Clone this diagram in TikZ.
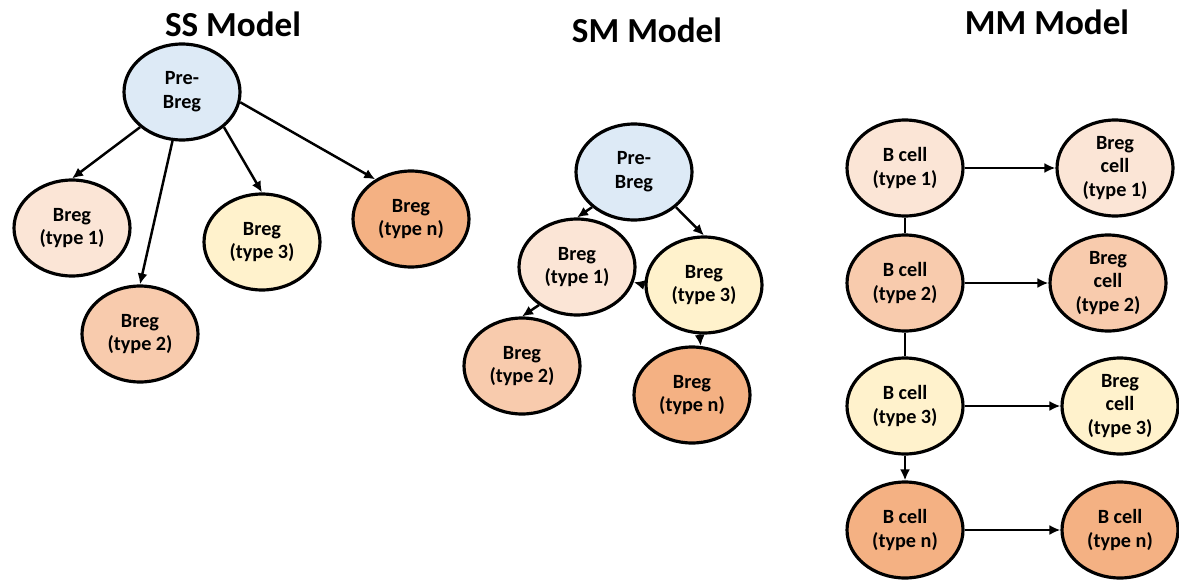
\documentclass[tikz,border=0pt]{standalone}
\usepackage{fontspec}
\setmainfont{Carlito}
\usetikzlibrary{shapes.geometric,arrows.meta}

\definecolor{preblue}{HTML}{DDEAF6}
\definecolor{typeone}{HTML}{FBE5D6}
\definecolor{typetwo}{HTML}{F8CBAD}
\definecolor{typethree}{HTML}{FFF2CC}
\definecolor{typen}{HTML}{F4B183}

\begin{document}
\begin{tikzpicture}[x=0.02cm, y=-0.02cm,
    cell/.style={ellipse, draw=black, line width=1.8pt, minimum width=2.32cm, minimum height=1.92cm,
        inner sep=0pt, align=center, font=\fontsize{11.5}{13.5}\selectfont\bfseries},
    title/.style={font=\fontsize{20}{24}\selectfont\bfseries},
    arr/.style={line width=1.4pt, -{Latex[length=2.2mm,width=2mm]}},
    link/.style={line width=1.4pt}]
        \useasboundingbox (0,0) rectangle (1179,581);

        % SS model: one precursor, all types branch off it
        \node[title] (ssTitle) at (233,24) {SS Model};
        \node[cell, fill=preblue] (ssPre) at (182,92) {Pre-\\Breg};
        \node[cell, fill=typeone] (ssOne) at (72,228) {Breg\\(type 1)};
        \node[cell, fill=typetwo] (ssTwo) at (140,334) {Breg\\(type 2)};
        \node[cell, fill=typethree] (ssThree) at (262,242) {Breg\\(type 3)};
        \node[cell, fill=typen] (ssN) at (411,219) {Breg\\(type n)};

        \draw[arr] (ssPre.220) -- (ssOne.north);
        \draw[arr] (ssPre.259) -- (ssTwo.north);
        \draw[arr] (ssPre.-40) -- (ssThree.north);
        \draw[arr] (ssPre.-10) -- (ssN.132);

        % SM model: types derive from each other
        \node[title] (smTitle) at (647,30) {SM Model};
        \node[cell, fill=preblue] (smPre) at (634,172) {Pre-\\Breg};
        \node[cell, fill=typeone] (smOne) at (577,267) {Breg\\(type 1)};
        \node[cell, fill=typethree] (smThree) at (704,285) {Breg\\(type 3)};
        \node[cell, fill=typetwo] (smTwo) at (522,366) {Breg\\(type 2)};
        \node[cell, fill=typen] (smN) at (692,395) {Breg\\(type n)};

        \draw[arr] (smPre.220) -- (smOne.north);
        \draw[arr] (smPre.-40) -- (smThree.north);
        \draw[arr] (smThree.west) -- (smOne.-15);
        \draw[arr] (smOne.225) -- (smTwo.north);
        \draw[arr] (smThree.265) -- (smN.80);

        % MM model: each B cell type gives its own Breg type
        \node[title] (mmTitle) at (1047,22) {MM Model};
        \node[cell, fill=typeone] (mmB1) at (905,168) {B cell\\(type 1)};
        \node[cell, fill=typetwo] (mmB2) at (905,283) {B cell\\(type 2)};
        \node[cell, fill=typethree] (mmB3) at (905,406) {B cell\\(type 3)};
        \node[cell, fill=typen] (mmBn) at (905,530) {B cell\\(type n)};

        \node[cell, fill=typeone] (mmR1) at (1115,168) {Breg\\cell\\(type 1)};
        \node[cell, fill=typetwo] (mmR2) at (1108,283) {Breg\\cell\\(type 2)};
        \node[cell, fill=typethree] (mmR3) at (1120,406) {Breg\\cell\\(type 3)};
        \node[cell, fill=typen] (mmRn) at (1120,530) {B cell\\(type n)};

        \draw[link] (mmB1.south) -- (mmB2.north);
        \draw[link] (mmB2.south) -- (mmB3.north);
        \draw[arr] (mmB3.south) -- (mmBn.north);

        \draw[arr] (mmB1.east) -- (mmR1.west);
        \draw[arr] (mmB2.east) -- (mmR2.west);
        \draw[arr] (mmB3.east) -- (mmR3.west);
        \draw[arr] (mmBn.east) -- (mmRn.west);
    \end{tikzpicture}
\end{document}
